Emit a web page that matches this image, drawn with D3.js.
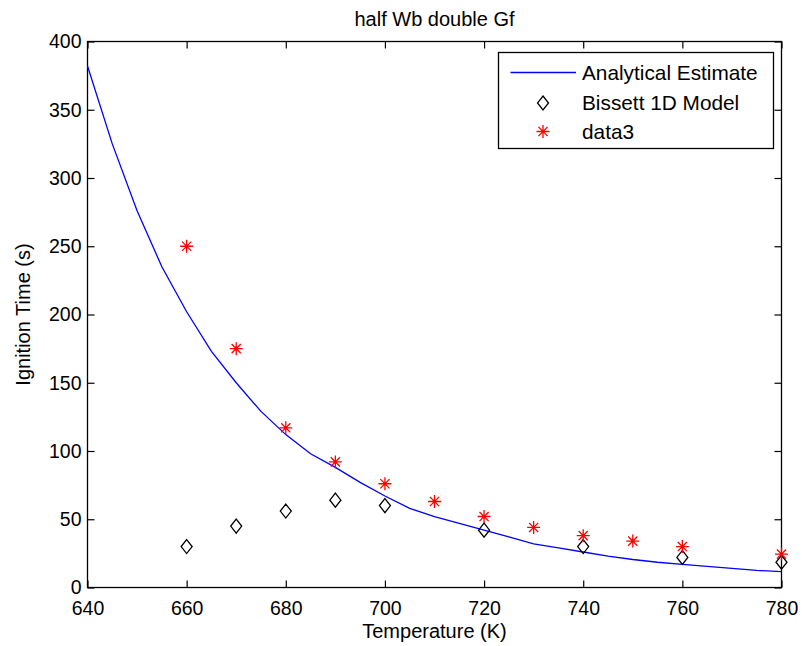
<!DOCTYPE html>
<html>
<head>
<meta charset="utf-8">
<script src="https://cdn.jsdelivr.net/npm/d3@7"></script>
<style>
  html, body { margin: 0; padding: 0; background: #fff; }
  svg { display: block; font-family: "Liberation Sans", Arial, sans-serif; }
</style>
</head>
<body>
<div id="chart"></div>
<script>
// analytical estimate curve (K -> s)
const curveTemps = [640, 645, 650, 655, 660, 665, 670, 675, 680, 685, 690, 695, 700, 705, 710,
  715, 720, 725, 730, 735, 740, 745, 750, 755, 760, 765, 770, 775, 780];
const curveTimes = [382, 325, 276, 235, 202, 173, 150, 129, 112, 98, 88, 77, 67, 58, 52,
  47, 42, 37, 32, 29, 26, 23, 20.5, 18.5, 17, 15.5, 14, 12.5, 11.6];

// Bissett 1D model (diamonds)
const bissettTemps = [660, 670, 680, 690, 700, 720, 740, 760, 780];
const bissettTimes = [30, 45, 56, 64, 60, 42, 30, 22, 18.5];

// data3 (red stars)
const data3Temps = [660, 670, 680, 690, 700, 710, 720, 730, 740, 750, 760, 780];
const data3Times = [250, 175, 117, 92, 76, 63, 52, 44, 38, 34, 30, 24.5];

const xTicks = [640, 660, 680, 700, 720, 740, 760, 780];
const yTicks = [0, 50, 100, 150, 200, 250, 300, 350, 400];
const legendLabels = ['Analytical Estimate', 'Bissett 1D Model', 'data3'];

const width = 802, height = 646;
const margin = { top: 41.5, right: 20.5, bottom: 58.5, left: 87.5 };
const tickFont = 19.5;
const labelFont = 20;
const legendFont = 20.8;

const svg = d3.select('#chart').append('svg')
  .attr('width', width)
  .attr('height', height);

const x = d3.scaleLinear().domain([640, 780]).range([margin.left, width - margin.right]);
const y = d3.scaleLinear().domain([0, 400]).range([height - margin.bottom, margin.top]);

const tickLen = 7;

// axes (box with inward ticks on all sides)
const axisStyle = g => {
  g.select('.domain').remove();
  g.selectAll('line').attr('stroke', '#000').attr('stroke-width', 1.2);
  g.selectAll('text').attr('fill', '#000').style('font-size', tickFont + 'px');
};

svg.append('g')
  .attr('transform', `translate(0,${y(0)})`)
  .call(d3.axisBottom(x).tickValues(xTicks).tickSizeInner(-tickLen).tickSizeOuter(0).tickPadding(14))
  .call(axisStyle);

svg.append('g')
  .attr('transform', `translate(0,${y(400)})`)
  .call(d3.axisTop(x).tickValues(xTicks).tickSizeInner(-tickLen).tickSizeOuter(0).tickFormat(''))
  .call(axisStyle);

svg.append('g')
  .attr('transform', `translate(${x(640)},0)`)
  .call(d3.axisLeft(y).tickValues(yTicks).tickSizeInner(-tickLen).tickSizeOuter(0).tickPadding(6))
  .call(axisStyle);

svg.append('g')
  .attr('transform', `translate(${x(780)},0)`)
  .call(d3.axisRight(y).tickValues(yTicks).tickSizeInner(-tickLen).tickSizeOuter(0).tickFormat(''))
  .call(axisStyle);

svg.append('rect')
  .attr('x', x(640)).attr('y', y(400))
  .attr('width', x(780) - x(640)).attr('height', y(0) - y(400))
  .attr('fill', 'none').attr('stroke', '#000').attr('stroke-width', 1.3);

// analytical line
const line = d3.line().x((d, i) => x(curveTemps[i])).y(d => y(d));
svg.append('path')
  .datum(curveTimes)
  .attr('d', line)
  .attr('fill', 'none')
  .attr('stroke', '#0000ff')
  .attr('stroke-width', 1.3);

// marker helpers
const diamond = (g, cx, cy) => g.append('path')
  .attr('d', `M${cx},${cy - 7}L${cx + 5.5},${cy}L${cx},${cy + 7}L${cx - 5.5},${cy}Z`)
  .attr('fill', 'none').attr('stroke', '#000').attr('stroke-width', 1.3);

const star = (g, cx, cy) => {
  const r = 6.5, d = 4.6;
  g.append('path')
    .attr('d', `M${cx - r},${cy}H${cx + r}M${cx},${cy - r}V${cy + r}` +
      `M${cx - d},${cy - d}L${cx + d},${cy + d}M${cx - d},${cy + d}L${cx + d},${cy - d}`)
    .attr('fill', 'none').attr('stroke', '#ff0000').attr('stroke-width', 1.3);
};

const markers = svg.append('g');
bissettTemps.forEach((t, i) => diamond(markers, x(t), y(bissettTimes[i])));
data3Temps.forEach((t, i) => star(markers, x(t), y(data3Times[i])));

// title and labels
svg.append('text')
  .attr('x', (x(640) + x(780)) / 2).attr('y', 26)
  .attr('text-anchor', 'middle').style('font-size', labelFont + 'px')
  .text('half Wb double Gf');

svg.append('text')
  .attr('x', (x(640) + x(780)) / 2).attr('y', 638)
  .attr('text-anchor', 'middle').style('font-size', labelFont + 'px')
  .text('Temperature (K)');

svg.append('text')
  .attr('transform', `translate(30,${(y(0) + y(400)) / 2}) rotate(-90)`)
  .attr('text-anchor', 'middle').style('font-size', labelFont + 'px')
  .text('Ignition Time (s)');

// legend
const lg = svg.append('g');
lg.append('rect')
  .attr('x', 498.5).attr('y', 52.5).attr('width', 275).attr('height', 96)
  .attr('fill', '#fff').attr('stroke', '#000').attr('stroke-width', 1.3);
const rowY = [72.5, 103, 131.5];
lg.append('line')
  .attr('x1', 510.5).attr('x2', 576).attr('y1', rowY[0]).attr('y2', rowY[0])
  .attr('stroke', '#0000ff').attr('stroke-width', 1.3);
diamond(lg, 543, rowY[1]);
star(lg, 543, rowY[2]);
legendLabels.forEach((l, i) => lg.append('text')
  .attr('x', 582).attr('y', rowY[i]).attr('dy', '0.35em')
  .style('font-size', legendFont + 'px').text(l));
</script>
</body>
</html>
